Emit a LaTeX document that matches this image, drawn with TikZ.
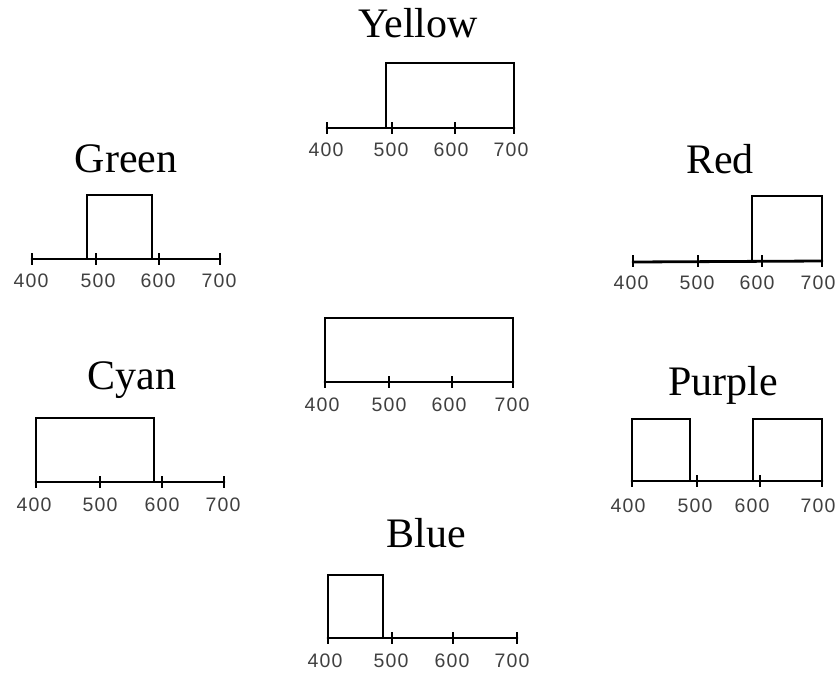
\documentclass[tikz,border=0pt]{standalone}
\usepackage{fontspec}
\setmainfont{Liberation Serif}
\newfontfamily\numfont[LetterSpace=6]{Liberation Sans}
\begin{document}
\begin{tikzpicture}[x=1pt,y=-1pt,
  ax/.style={line width=2.8pt,line cap=round},
  tk/.style={line width=2.6pt},
  bx/.style={line width=2.6pt,line join=miter},
  num/.style={inner sep=0pt,anchor=center,font=\numfont\fontsize{19.5}{22}\selectfont,text=black!75},
  ttl/.style={inner sep=0pt,anchor=base,font=\fontsize{42}{50}\selectfont}]
\useasboundingbox[fill=white] (0,0) rectangle (839,675);

% Yellow
\node[ttl] (tY) at (418,37) {Yellow};
\draw[ax] (327,128) -- (514,128);
\foreach \t in {327,392,455,514} \draw[tk] (\t,122) -- (\t,134);
\draw[bx] (386,128) -- (386,63) -- (514,63) -- (514,128);
\node[num] (y4) at (326,150) {400};
\node[num] (y5) at (391,150) {500};
\node[num] (y6) at (451,150) {600};
\node[num] (y7) at (511,150) {700};

% Green
\node[ttl] (tG) at (126,172) {Green};
\draw[ax] (32,259) -- (220,259);
\foreach \t in {32,96,159,220} \draw[tk] (\t,253) -- (\t,265);
\draw[bx] (87,259) -- (87,195) -- (152,195) -- (152,259);
\node[num] (g4) at (31,281) {400};
\node[num] (g5) at (98,281) {500};
\node[num] (g6) at (158,281) {600};
\node[num] (g7) at (219,281) {700};

% Red
\node[ttl] (tR) at (720,173) {Red};
\draw[ax] (633,262) -- (822,261);
\foreach \t in {633,698,762,822} \draw[tk] (\t,255) -- (\t,267);
\draw[bx] (752,261) -- (752,196) -- (822,196) -- (822,261);
\node[num] (r4) at (631,283) {400};
\node[num] (r5) at (697,283) {500};
\node[num] (r6) at (757,283) {600};
\node[num] (r7) at (818,283) {700};

% White (middle)
\draw[ax] (325,382) -- (513,382);
\foreach \t in {325,389,452,513} \draw[tk] (\t,376) -- (\t,388);
\draw[bx] (325,382) -- (325,318) -- (513,318) -- (513,382);
\node[num] (w4) at (322,405) {400};
\node[num] (w5) at (389,405) {500};
\node[num] (w6) at (449,405) {600};
\node[num] (w7) at (512,405) {700};

% Cyan
\node[ttl] (tC) at (132,389) {Cyan};
\draw[ax] (36,482) -- (224,482);
\foreach \t in {36,100,162,224} \draw[tk] (\t,476) -- (\t,488);
\draw[bx] (36,482) -- (36,418) -- (154,418) -- (154,482);
\node[num] (c4) at (34,505) {400};
\node[num] (c5) at (100,505) {500};
\node[num] (c6) at (162,505) {600};
\node[num] (c7) at (223,505) {700};

% Purple
\node[ttl] (tP) at (723,395) {Purple};
\draw[ax] (632,481) -- (822,481);
\foreach \t in {632,697,760,822} \draw[tk] (\t,475) -- (\t,487);
\draw[bx] (632,481) -- (632,419) -- (690,419) -- (690,481);
\draw[bx] (753,481) -- (753,419) -- (822,419) -- (822,481);
\node[num] (p4) at (628,506) {400};
\node[num] (p5) at (695,506) {500};
\node[num] (p6) at (752,506) {600};
\node[num] (p7) at (818,506) {700};

% Blue
\node[ttl] (tB) at (426,547) {Blue};
\draw[ax] (328,638) -- (517,638);
\foreach \t in {328,392,453,517} \draw[tk] (\t,632) -- (\t,644);
\draw[bx] (328,638) -- (328,575) -- (383,575) -- (383,638);
\node[num] (b4) at (325,661) {400};
\node[num] (b5) at (391,661) {500};
\node[num] (b6) at (452,661) {600};
\node[num] (b7) at (512,661) {700};
\end{tikzpicture}
\end{document}
